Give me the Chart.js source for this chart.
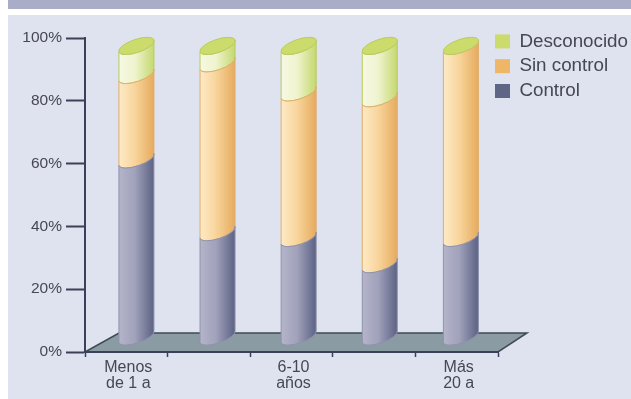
<!DOCTYPE html>
<html lang="es">
<head>
<meta charset="utf-8">
<style>
  html, body { margin: 0; padding: 0; background: #fff; }
  #page { position: relative; width: 631px; height: 399px; overflow: hidden; background: #fff; }
  #band { position: absolute; left: 8px; top: 0; right: 0; height: 9px; background: #a9adc8; }
  #panel { position: absolute; left: 8px; top: 15px; right: 0; bottom: 0; background: #dfe2ef; }
  canvas { position: absolute; left: 0; top: 0; }
</style>
</head>
<body>
<div id="page">
  <div id="band"></div>
  <div id="panel"></div>
  <canvas id="chart" width="631" height="399"></canvas>
</div>
<script src="https://cdn.jsdelivr.net/npm/chart.js@4"></script>
<script>
const categories = [['Menos', 'de 1 a'], '', ['6-10', 'años'], '', ['Más', '20 a']];
const control = [61, 36, 34, 25, 34];
const sinControl = [29, 58, 50, 57, 66];
const desconocido = [10, 6, 16, 18, 0];
const yTicks = [0, 20, 40, 60, 80, 100];

const COLOR_CONTROL = '#5f6585';
const COLOR_SIN = '#eeb768';
const COLOR_DESC = '#cbdc6c';
const INK = '#454854';
const AXIS = '#3a4058';

// Cylinder shading, left to right, for each series colour
const shades = {
  [COLOR_CONTROL]: ['#b4b5ca', '#a1a2bb', '#5c6284'],
  [COLOR_SIN]: ['#fdeac6', '#f8d59c', '#e6ab5e'],
  [COLOR_DESC]: ['#f6f8e2', '#eff4cf', '#c5d86e']
};
const outlines = {
  [COLOR_CONTROL]: '#8f92ab',
  [COLOR_SIN]: '#dfae6c',
  [COLOR_DESC]: '#b9cb5c'
};

// Oblique projection: the columns stand on a floor set back from the axis plane
const TILT = Math.atan2(12, 35);
const RX = 18.5;
const RY = 6.5;
let zeroPixel = 352;
const projectX = x => 0.982 * x + 12.4;
const projectY = y => 343 - (zeroPixel - y) * 0.927;

function segmentPath(ctx, cx, yTop, yBottom) {
  const half = RX * Math.cos(TILT);
  const rise = RX * Math.sin(TILT);
  ctx.beginPath();
  ctx.moveTo(cx - half, yBottom + rise);
  ctx.ellipse(cx, yBottom, RX, RY, -TILT, Math.PI, 0, true);
  ctx.lineTo(cx + half, yTop - rise);
  ctx.ellipse(cx, yTop, RX, RY, -TILT, 0, Math.PI, false);
  ctx.closePath();
}

// Stacked bars are painted as sections of a cylinder
Chart.BarElement.prototype.draw = function (ctx) {
  const { x, y, base } = this.getProps(['x', 'y', 'base']);
  const color = this.options.backgroundColor;
  const cx = projectX(x);
  const half = RX * Math.cos(TILT);
  const rise = RX * Math.sin(TILT);
  const yTop = projectY(y) - rise;
  const yBottom = projectY(base) - rise;
  if (yBottom - yTop < 0.01) return;
  const g = ctx.createLinearGradient(cx - half, 0, cx + half, 0);
  g.addColorStop(0, shades[color][0]);
  g.addColorStop(0.45, shades[color][1]);
  g.addColorStop(1, shades[color][2]);
  ctx.save();
  segmentPath(ctx, cx, yTop, yBottom);
  ctx.fillStyle = g;
  ctx.fill();
  ctx.lineWidth = 1;
  ctx.strokeStyle = outlines[color];
  ctx.stroke();
  ctx.restore();
};

const scene = {
  id: 'scene',
  afterLayout(chart) {
    // The key sits partly over the end of the floor, clear of the last column
    const legend = chart.legend;
    legend.left = 489;
    legend.right = 631;
    legend.width = 142;
    legend.top = 26;
  },
  beforeDraw(chart) {
    // Floor plane behind the axes
    const { ctx, chartArea: a } = chart;
    ctx.save();
    ctx.beginPath();
    ctx.moveTo(a.left, a.bottom);
    ctx.lineTo(a.left + 34, a.bottom - 19);
    ctx.lineTo(a.right + 29, a.bottom - 19);
    ctx.lineTo(a.right, a.bottom);
    ctx.closePath();
    ctx.fillStyle = '#8b9ba4';
    ctx.fill();
    ctx.lineWidth = 1.5;
    ctx.strokeStyle = '#3f4a55';
    ctx.stroke();
    ctx.restore();
  },
  beforeDatasetsDraw(chart) {
    zeroPixel = chart.scales.y.getPixelForValue(0);
  },
  afterDatasetsDraw(chart) {
    // Green lid on each column
    const { ctx } = chart;
    const rise = RX * Math.sin(TILT);
    chart.getDatasetMeta(2).data.forEach(el => {
      const cx = projectX(el.x);
      const cy = projectY(el.y) - rise;
      ctx.save();
      ctx.beginPath();
      ctx.ellipse(cx, cy, RX, RY, -TILT, 0, Math.PI * 2);
      ctx.fillStyle = COLOR_DESC;
      ctx.fill();
      ctx.lineWidth = 1;
      ctx.strokeStyle = outlines[COLOR_DESC];
      ctx.stroke();
      ctx.restore();
    });
  }
};

new Chart(document.getElementById('chart'), {
  type: 'bar',
  data: {
    labels: categories,
    datasets: [
      { label: 'Control', data: control, backgroundColor: COLOR_CONTROL, borderColor: COLOR_CONTROL, borderWidth: 0, barThickness: 35 },
      { label: 'Sin control', data: sinControl, backgroundColor: COLOR_SIN, borderColor: COLOR_SIN, borderWidth: 0, barThickness: 35 },
      { label: 'Desconocido', data: desconocido, backgroundColor: COLOR_DESC, borderColor: COLOR_DESC, borderWidth: 0, barThickness: 35 }
    ]
  },
  options: {
    responsive: false,
    animation: false,
    layout: { padding: { top: 38, left: 0, right: 0, bottom: 0 } },
    scales: {
      x: {
        stacked: true,
        afterFit(scale) { scale.height = 47; },
        border: { color: AXIS, width: 2 },
        grid: { drawOnChartArea: false, color: AXIS, tickLength: 5, tickWidth: 1.5 },
        ticks: {
          color: INK,
          autoSkip: false,
          maxRotation: 0,
          padding: 3,
          labelOffset: 2,
          font: { family: '"Liberation Sans", Arial, sans-serif', size: 16, lineHeight: 1 }
        }
      },
      y: {
        stacked: true,
        min: 0,
        max: 100,
        afterFit(scale) { scale.width = 85; },
        afterBuildTicks(scale) { scale.ticks = yTicks.map(value => ({ value })); },
        border: { color: AXIS, width: 2 },
        grid: { drawOnChartArea: false, color: AXIS, tickLength: 19, tickWidth: 2 },
        ticks: {
          color: INK,
          padding: 4,
          callback: v => v + '%',
          font: { family: '"Liberation Sans", Arial, sans-serif', size: 15.5 }
        }
      }
    },
    plugins: {
      tooltip: { enabled: false },
      legend: {
        position: 'right',
        align: 'start',
        reverse: true,
        maxWidth: 133,
        labels: {
          color: INK,
          boxWidth: 15,
          boxHeight: 14,
          padding: 6,
          font: { family: '"Liberation Sans", Arial, sans-serif', size: 18.8 }
        }
      }
    }
  },
  plugins: [scene]
});
</script>
</body>
</html>
